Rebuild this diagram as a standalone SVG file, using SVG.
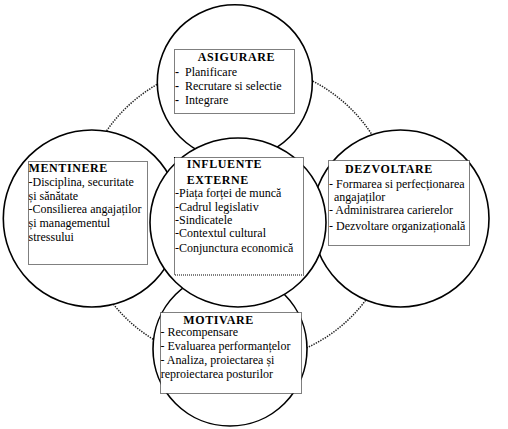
<svg xmlns="http://www.w3.org/2000/svg" width="508" height="429" viewBox="0 0 508 429">
<style>
.c{fill:#fff;stroke:#000;stroke-width:1.6}
.b{fill:#fff;stroke:#000;stroke-width:1.1;stroke-dasharray:1 1}
.ring{fill:none;stroke:#222;stroke-width:1.5;stroke-dasharray:1.4 1.2}
text{font-family:"Liberation Serif","Times New Roman",serif;font-size:12px;fill:#000}
.h{font-weight:bold;letter-spacing:0.6px}
</style>
<rect width="508" height="429" fill="#fff"/>
<g id="connectors">
<ellipse class="ring" cx="238" cy="213" rx="157" ry="150"/>
</g>
<g id="asigurare">
<ellipse class="c" cx="234.8" cy="82.2" rx="77.5" ry="77.5"/>
</g>
<g id="mentinere">
<ellipse class="c" cx="91.8" cy="218.5" rx="88.5" ry="88.5"/>
</g>
<g id="dezvoltare">
<ellipse class="c" cx="400.5" cy="218.5" rx="88.5" ry="88.5"/>
</g>
<g id="motivare">
<ellipse class="c" cx="230" cy="349" rx="77" ry="77"/>
</g>
<g id="influente">
<ellipse class="c" cx="238" cy="222.5" rx="88" ry="84.5"/>
</g>
<g id="asigurare-box">
<rect class="b" x="174.5" y="49.5" width="120" height="64"/>
<text class="h" x="197.7" y="60.7">ASIGURARE</text>
<text x="175" y="75.7" font-weight="bold">-</text><text x="185" y="75.7">Planificare</text>
<text x="175" y="90" font-weight="bold">-</text><text x="185" y="90">Recrutare si selectie</text>
<text x="175" y="104" font-weight="bold">-</text><text x="185" y="104">Integrare</text>
</g>
<g id="mentinere-box">
<rect class="b" x="28.5" y="161.5" width="119" height="103"/>
<text class="h" x="28.5" y="172">MENTINERE</text>
<text x="28.5" y="186">-Disciplina, securitate</text>
<text x="28.5" y="199.7">și sănătate</text>
<text x="28.5" y="213.3">-Consilierea angajaților</text>
<text x="28.5" y="226.7">și managementul</text>
<text x="28.5" y="240.7">stressului</text>
</g>
<g id="influente-box">
<rect class="b" x="174.5" y="157.5" width="129" height="117.5"/>
<text class="h" x="186.7" y="168.3">INFLUENTE</text>
<text class="h" x="186.7" y="183.7">EXTERNE</text>
<text x="175" y="197.3">-Piața forței de muncă</text>
<text x="175" y="210.7">-Cadrul legislativ</text>
<text x="175" y="224">-Sindicatele</text>
<text x="175" y="237.3">-Contextul cultural</text>
<text x="175" y="252">-Conjunctura economică</text>
</g>
<g id="dezvoltare-box">
<rect class="b" x="328.5" y="160.5" width="141" height="85"/>
<text class="h" x="345" y="172.5">DEZVOLTARE</text>
<text x="329" y="188">- Formarea si perfecționarea</text>
<text x="334" y="200.5">angajaților</text>
<text x="329" y="214.3">- Administrarea carierelor</text>
<text x="329" y="229.5">- Dezvoltare organizațională</text>
</g>
<g id="motivare-box">
<rect class="b" x="160.5" y="312.5" width="141" height="81"/>
<text class="h" x="183.3" y="323.5">MOTIVARE</text>
<text x="160.5" y="336.3">- Recompensare</text>
<text x="160.5" y="350.3">- Evaluarea performanțelor</text>
<text x="160.5" y="363.8">-  Analiza, proiectarea și</text>
<text x="160.7" y="378">reproiectarea posturilor</text>
</g>
</svg>
